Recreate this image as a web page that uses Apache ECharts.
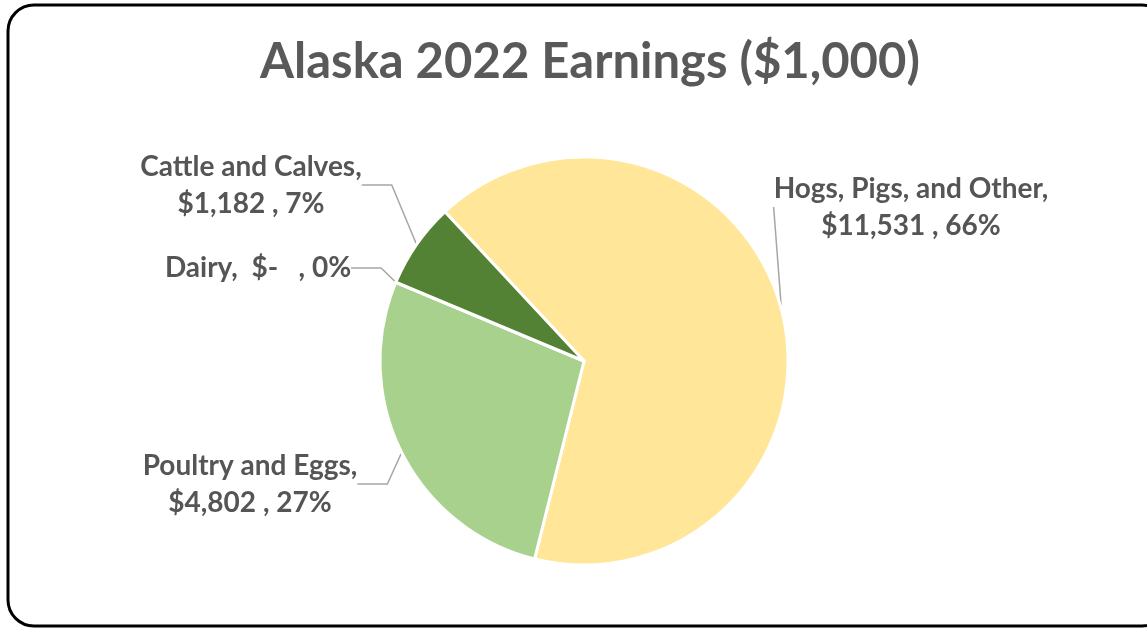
<!DOCTYPE html>
<html>
<head>
<meta charset="utf-8">
<script src="https://cdn.jsdelivr.net/npm/echarts@6/dist/echarts.min.js"></script>
<style>
  html, body { margin: 0; padding: 0; background: #fff; }
  #chart { width: 1147px; height: 628px; }
</style>
</head>
<body>
<div id="chart"></div>
<script>
// categories in drawing order (clockwise from the top-left edge)
var categories = ['Hogs, Pigs, and Other', 'Poultry and Eggs', 'Dairy', 'Cattle and Calves'];
var earnings = [11531, 4802, 0, 1182];
var colors = ['#FFE699', '#A9D18E', '#70AD47', '#548235'];

// where Excel put each data label (centre of the text block)
var labelSpots = [
  { x: 911, y: 207 },
  { x: 250, y: 484 },
  { x: 258, y: 268 },
  { x: 251, y: 185 }
];

function money(v) {
  if (v === 0) return '$-   ';
  return '$' + v.toLocaleString('en-US') + ' ';
}

var chart = echarts.init(document.getElementById('chart'));

var option = {
  animation: false,
  backgroundColor: '#fff',
  title: {
    text: 'Alaska 2022 Earnings ($1,000)',
    left: 585,
    top: 33,
    textAlign: 'center',
    textStyle: {
      fontFamily: 'Lato',
      fontSize: 49,
      fontWeight: 'bold',
      color: '#595959'
    }
  },
  graphic: [{
    type: 'rect',
    shape: { x: 8, y: 5, width: 1160, height: 621, r: 26 },
    style: { fill: null, stroke: '#000', lineWidth: 3 },
    silent: true
  }],
  series: [{
    type: 'pie',
    center: [584, 361],
    radius: 204,
    startAngle: 133,
    clockwise: true,
    minShowLabelAngle: 0,
    data: categories.map(function (c, i) {
      return { name: c, value: earnings[i], itemStyle: { color: colors[i] } };
    }),
    itemStyle: { borderColor: '#fff', borderWidth: 3 },
    label: {
      show: true,
      fontFamily: 'Lato',
      fontSize: 28,
      fontWeight: 'bold',
      color: '#555555',
      lineHeight: 37,
      align: 'center',
      formatter: function (p) {
        if (p.dataIndex === 2) {
          return p.name + ',  ' + money(p.value) + ', ' + Math.round(p.percent) + '%';
        }
        return p.name + ',\n' + money(p.value) + ', ' + Math.round(p.percent) + '%';
      }
    },
    labelLine: {
      show: true,
      lineStyle: { color: '#A6A6A6', width: 1.5 }
    },
    labelLayout: function (params) {
      var s = labelSpots[params.dataIndex];
      return { x: s.x, y: s.y, align: 'center', verticalAlign: 'middle', moveOverlap: false, hideOverlap: false };
    },
    emphasis: { disabled: true }
  }]
};

chart.setOption(option);
</script>
</body>
</html>
